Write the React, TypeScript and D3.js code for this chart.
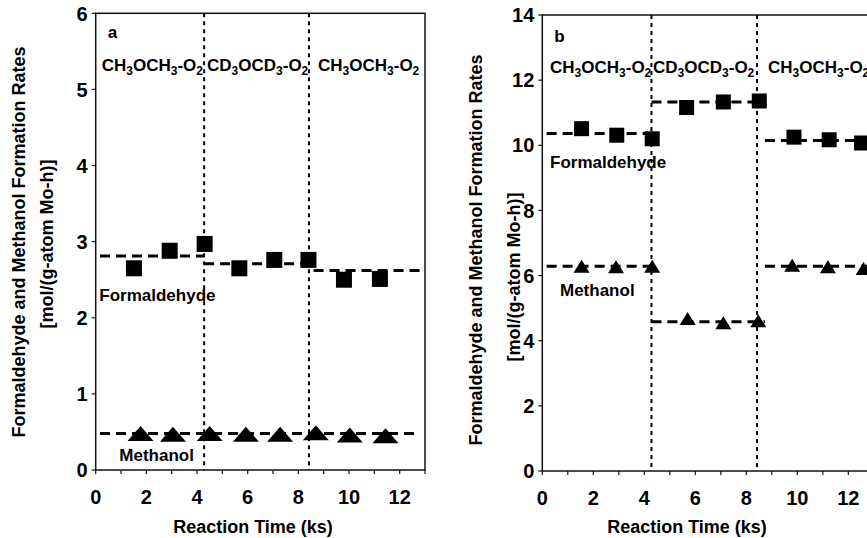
import React from 'react';
import * as d3 from 'd3';

// ---------- data ----------
const xTickValues = [0, 1, 2, 3, 4, 5, 6, 7, 8, 9, 10, 11, 12, 13];
const xTickLabels = [0, 2, 4, 6, 8, 10, 12];
const yTicksA = [0, 1, 2, 3, 4, 5, 6];
const yTicksB = [0, 2, 4, 6, 8, 10, 12, 14];
const switchTimes = [4.28, 8.42];

const feedMain = ['CH', 'OCH', '-O'];
const feedMainD = ['CD', 'OCD', '-O'];
const feedSubs = ['3', '3', '2'];

const formTimeA = [1.51, 2.92, 4.3, 5.67, 7.05, 8.4, 9.8, 11.22];
const formRateA = [2.65, 2.88, 2.97, 2.65, 2.76, 2.76, 2.5, 2.51];
const methTimeA = [1.77, 3.05, 4.5, 5.93, 7.28, 8.69, 10.03, 11.44];
const methRateA = [0.48, 0.47, 0.48, 0.47, 0.47, 0.49, 0.46, 0.45];
const formMeanA = [2.81, 2.71, 2.62];
const formMeanStartA = [0.17, 4.28, 8.6];
const formMeanEndA = [4.28, 8.6, 12.8];
const methMeanA = [0.48];
const methMeanStartA = [0.17];
const methMeanEndA = [12.7];

const formTimeB = [1.54, 2.92, 4.31, 5.66, 7.1, 8.51, 9.87, 11.25, 12.52];
const formRateB = [10.51, 10.31, 10.2, 11.16, 11.33, 11.36, 10.25, 10.17, 10.07];
const methTimeB = [1.54, 2.89, 4.31, 5.7, 7.1, 8.47, 9.8, 11.2, 12.6];
const methRateB = [6.29, 6.27, 6.29, 4.68, 4.55, 4.61, 6.32, 6.27, 6.22];
const formMeanB = [10.36, 11.33, 10.15];
const methMeanB = [6.29, 4.58, 6.29];
const meanStartB = [0.17, 4.28, 8.73];
const meanEndB = [4.28, 8.73, 13];

const FONT = "'Liberation Sans', Arial, Helvetica, sans-serif";

function Feed({ x, y, main, size }: { x: number; y: number; main: string[]; size: number }) {
  const sub = Math.round(size * 0.7);
  return (
    <text x={x} y={y} fontSize={size} fontWeight="bold" fontFamily={FONT} fill="#000">
      {main.map((m, i) => (
        <React.Fragment key={i}>
          <tspan dy={i === 0 ? 0 : -4}>{m}</tspan>
          <tspan fontSize={sub} dy={4}>{feedSubs[i]}</tspan>
        </React.Fragment>
      ))}
    </text>
  );
}

type PanelProps = {
  left: number; right: number; top: number; bottom: number;
  yMax: number; yTicks: number[]; letter: string;
  formT: number[]; formR: number[]; methT: number[]; methR: number[];
  formMean: number[]; formS: number[]; formE: number[];
  methMean: number[]; methS: number[]; methE: number[];
  sq: number; triW: number; triH: number;
  feedX: number[]; feedY: number; letterY: number;
  formLbl: [number, number]; methLbl: [number, number];
  ytX1: number; ytX2: number; ytY1: number; ytY2: number; xtX: number;
};

function Panel(p: PanelProps) {
  const x = d3.scaleLinear().domain([0, 13]).range([p.left, p.right]);
  const y = d3.scaleLinear().domain([0, p.yMax]).range([p.bottom, p.top]);
  const tri = (cx: number, cy: number) =>
    `M${cx},${cy - p.triH / 2}L${cx + p.triW / 2},${cy + p.triH / 2}L${cx - p.triW / 2},${cy + p.triH / 2}Z`;
  const fs = 17;
  return (
    <g>
      {switchTimes.map((t, i) => (
        <line key={i} x1={x(t)} x2={x(t)} y1={p.top} y2={p.bottom}
          stroke="#000" strokeWidth={2} strokeDasharray="4,4" />
      ))}
      <rect x={p.left} y={p.top} width={p.right - p.left} height={p.bottom - p.top}
        fill="none" stroke="#111" strokeWidth={1.5} />
      {xTickValues.map((t) => (
        <line key={t} x1={x(t)} x2={x(t)} y1={p.bottom} y2={p.bottom + 4} stroke="#111" strokeWidth={1.2} />
      ))}
      {xTickLabels.map((t) => (
        <text key={t} x={x(t)} y={p.bottom + 34} textAnchor="middle" fontSize={20}
          fontWeight="bold" fontFamily={FONT}>{t}</text>
      ))}
      {p.yTicks.map((t) => (
        <g key={t}>
          <line x1={p.left - 4} x2={p.left} y1={y(t)} y2={y(t)} stroke="#111" strokeWidth={1.2} />
          <text x={p.left - 8} y={y(t)} dy="0.36em" textAnchor="end" fontSize={20}
            fontWeight="bold" fontFamily={FONT}>{t}</text>
        </g>
      ))}
      {p.formMean.map((m, i) => (
        <line key={'f' + i} x1={x(p.formS[i])} x2={x(p.formE[i])} y1={y(m)} y2={y(m)}
          stroke="#000" strokeWidth={3} strokeDasharray="10,6" />
      ))}
      {p.methMean.map((m, i) => (
        <line key={'m' + i} x1={x(p.methS[i])} x2={x(p.methE[i])} y1={y(m)} y2={y(m)}
          stroke="#000" strokeWidth={3} strokeDasharray="10,6" />
      ))}
      {p.formT.map((t, i) => (
        <rect key={'s' + i} x={x(t) - p.sq / 2} y={y(p.formR[i]) - p.sq / 2} width={p.sq} height={p.sq} fill="#000" />
      ))}
      {p.methT.map((t, i) => (
        <path key={'t' + i} d={tri(x(t), y(p.methR[i]))} fill="#000" />
      ))}
      <text x={p.left + 12} y={p.letterY} fontSize={fs} fontWeight="bold" fontFamily={FONT}>{p.letter}</text>
      <Feed x={p.feedX[0]} y={p.feedY} main={feedMain} size={fs} />
      <Feed x={p.feedX[1]} y={p.feedY} main={feedMainD} size={fs} />
      <Feed x={p.feedX[2]} y={p.feedY} main={feedMain} size={fs} />
      <text x={p.formLbl[0]} y={p.formLbl[1]} fontSize={fs} fontWeight="bold" fontFamily={FONT}>Formaldehyde</text>
      <text x={p.methLbl[0]} y={p.methLbl[1]} fontSize={fs} fontWeight="bold" fontFamily={FONT}>Methanol</text>
      <text transform={`translate(${p.ytX1},${p.ytY1}) rotate(-90)`} textAnchor="middle" fontSize={18}
        fontWeight="bold" fontFamily={FONT}>Formaldehyde and Methanol Formation Rates</text>
      <text transform={`translate(${p.ytX2},${p.ytY2}) rotate(-90)`} textAnchor="middle" fontSize={18}
        fontWeight="bold" fontFamily={FONT}>[mol/(g-atom Mo-h)]</text>
      <text x={p.xtX} y={533} textAnchor="middle" fontSize={18} fontWeight="bold" fontFamily={FONT}>Reaction Time (ks)</text>
    </g>
  );
}

export default function App() {
  return (
    <svg width={867} height={538} style={{ position: 'fixed', left: 0, top: 0, background: '#fff' }}>
      <rect width={867} height={538} fill="#fff" />
      <Panel left={95.7} right={425} top={13.3} bottom={470} yMax={6} yTicks={yTicksA} letter="a"
        formT={formTimeA} formR={formRateA} methT={methTimeA} methR={methRateA}
        formMean={formMeanA} formS={formMeanStartA} formE={formMeanEndA}
        methMean={methMeanA} methS={methMeanStartA} methE={methMeanEndA}
        sq={16} triW={26} triH={15}
        feedX={[101.7, 207, 318]} feedY={71} letterY={38}
        formLbl={[99.3, 301]} methLbl={[119.3, 461]}
        ytX1={25} ytX2={53} ytY1={242} ytY2={244} xtX={253} />
      <Panel left={542.3} right={873.8} top={15} bottom={471} yMax={14} yTicks={yTicksB} letter="b"
        formT={formTimeB} formR={formRateB} methT={methTimeB} methR={methRateB}
        formMean={formMeanB} formS={meanStartB} formE={meanEndB}
        methMean={methMeanB} methS={meanStartB} methE={meanEndB}
        sq={15} triW={16} triH={13}
        feedX={[550, 653, 768]} feedY={73} letterY={42}
        formLbl={[550, 168]} methLbl={[560, 296]}
        ytX1={482} ytX2={520} ytY1={250} ytY2={277} xtX={687} />
    </svg>
  );
}
